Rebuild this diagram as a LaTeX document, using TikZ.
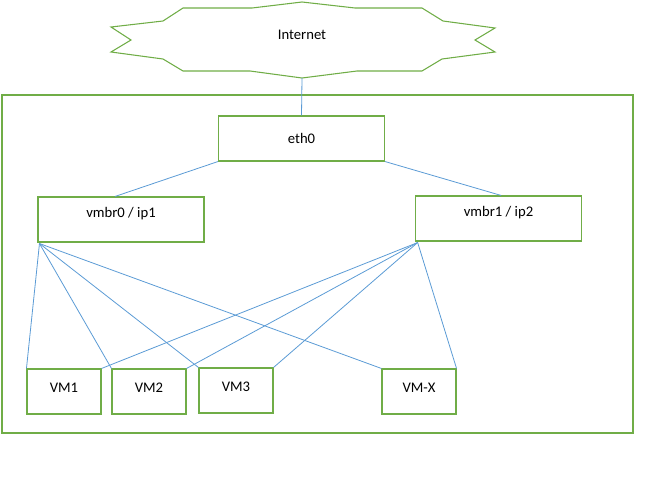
\documentclass[tikz,border=0pt]{standalone}
\usepackage{fontspec}
\setmainfont{Carlito}
\usetikzlibrary{positioning}
\definecolor{netgreen}{RGB}{112,173,71}
\definecolor{netblue}{RGB}{91,155,213}
\tikzset{
  box/.style  = {draw=netgreen, line width=0.8pt, fill=white, align=center,
                 font=\fontsize{11}{13}\selectfont, inner sep=0pt},
  sw/.style   = {box, minimum width=124.5pt, minimum height=33.75pt},
  br/.style   = {sw, text depth=10.5pt},
  vm/.style   = {box, minimum width=55.5pt, minimum height=33.75pt, text depth=6pt},
  ln/.style   = {draw=netblue, line width=0.6pt},
}
\begin{document}
\begin{tikzpicture}[x=0.75pt, y=-0.75pt]
\useasboundingbox (0,0) rectangle (655,486);

% --- cloud ---
\draw[netgreen, line width=0.8pt]
  (183,8) -- (252,8) -- (302,2) -- (355,8) -- (422,8) -- (443,21) -- (495,28)
  -- (475,40) -- (495,52) -- (442,59) -- (422,71) -- (357,71) -- (302,78)
  -- (250,71) -- (183,71) -- (163,59) -- (111,52) -- (131,40) -- (111,27)
  -- (163,21) -- cycle;
\node[font=\fontsize{11}{13}\selectfont] (inet) at (302,35) {Internet};
\coordinate (inetb) at (302,78);

% --- host ---
\draw[netgreen, line width=0.8pt] (2,95) rectangle (633,433);

\node[sw] (eth0) at (301.5,138.5) {eth0};
\node[br] (vmbr0) at (121,219.5) {vmbr0 / ip1};
\node[br] (vmbr1) at (498.5,218.5) {vmbr1 / ip2};

\node[vm] (vm1) at (64,391.5) {VM1};
\node[vm] (vm2) at (149,391.5) {VM2};
\node[vm] (vm3) at (236,390.5) {VM3};
\node[vm] (vmx) at (419,391.5) {VM-X};

% --- links ---
\draw[ln] (inetb) -- (eth0.north);
\draw[ln] (eth0.south west) -- ([xshift=-4.5pt]vmbr0.north);
\draw[ln] (eth0.south east) -- ([xshift=2pt]vmbr1.north);

\coordinate (b0) at ([xshift=1.5pt,yshift=-0.75pt]vmbr0.south west);
\coordinate (b1) at ([xshift=2pt,yshift=-0.75pt]vmbr1.south west);
\foreach \v in {vm1,vm2,vm3,vmx} {
  \draw[ln] (b0) -- (\v.north west);
  \draw[ln] (b1) -- (\v.north east);
}
\end{tikzpicture}
\end{document}
